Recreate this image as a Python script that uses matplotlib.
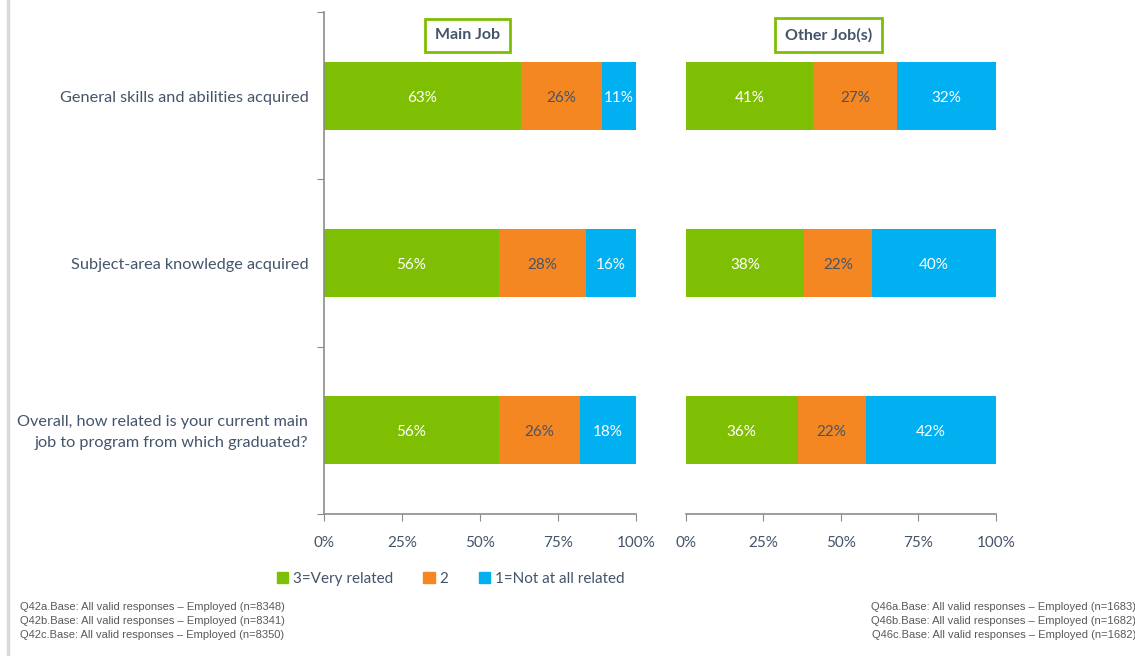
import numpy as np
import matplotlib
matplotlib.use("Agg")
import matplotlib.pyplot as plt
from matplotlib.patches import Patch

categories = ["General skills and abilities acquired",
              "Subject-area knowledge acquired",
              "Overall, how related is your current main\njob to program from which graduated?"]
series = ["3=Very related", "2", "1=Not at all related"]
main_job = [[63, 26, 11], [56, 28, 16], [56, 26, 18]]
other_job = [[41, 27, 32], [38, 22, 40], [36, 22, 42]]
panel_titles = ["Main Job", "Other Job(s)"]
footer_left = ["Q42a.Base: All valid responses \u2013 Employed (n=8348)",
               "Q42b.Base: All valid responses \u2013 Employed (n=8341)",
               "Q42c.Base: All valid responses \u2013 Employed (n=8350)"]
footer_right = ["Q46a.Base: All valid responses \u2013 Employed (n=1683)",
                "Q46b.Base: All valid responses \u2013 Employed (n=1682)",
                "Q46c.Base: All valid responses \u2013 Employed (n=1682)"]

colors = ["#7FBF03", "#F58722", "#00B0F0"]
label_colors = ["white", "#44546A", "white"]
txt = "#44546A"
spine = "#8C8C8C"
font = "Lato"

fig = plt.figure(figsize=(11.35, 6.56), dpi=100)
ax1 = fig.add_axes([0.2855, 0.2165, 0.2749, 0.7652])
ax2 = fig.add_axes([0.6044, 0.2165, 0.2731, 0.7652])

y = np.arange(len(categories))

def draw(ax, data, show_left):
    data = np.array(data)
    left = np.zeros(len(data))
    for i in range(data.shape[1]):
        bars = ax.barh(y, data[:, i], left=left, height=0.405, color=colors[i])
        for b, v in zip(bars, data[:, i]):
            ax.text(b.get_x() + b.get_width() / 2, b.get_y() + b.get_height() / 2 + 0.012,
                    f"{v}%", ha="center", va="center", color=label_colors[i],
                    fontsize=11, family=font)
        left += data[:, i]
    ax.set_xlim(0, 100)
    ax.set_ylim(len(categories) - 0.5, -0.5)
    ax.set_xticks([0, 25, 50, 75, 100])
    ax.set_xticklabels(["0%", "25%", "50%", "75%", "100%"], fontsize=11,
                       color=txt, family=font)
    for s in ["top", "right"]:
        ax.spines[s].set_visible(False)
    ax.spines["bottom"].set_color(spine)
    ax.spines["bottom"].set_linewidth(1.2)
    ax.tick_params(axis="x", colors=spine, length=5, pad=11, labelcolor=txt)
    if show_left:
        ax.spines["left"].set_color(spine)
        ax.spines["left"].set_linewidth(1.2)
        ax.set_yticks([-0.5, 0.5, 1.5, 2.5])
        ax.set_yticklabels([])
        ax.tick_params(axis="y", colors=spine, length=5)
        for yi, c in zip(y, categories):
            ax.text(-5, yi + 0.012, c, ha="right", va="center", fontsize=11.7,
                    color=txt, family=font, linespacing=1.6)
    else:
        ax.spines["left"].set_visible(False)
        ax.set_yticks([])

draw(ax1, main_job, True)
draw(ax2, other_job, False)

for ax, t in zip([ax1, ax2], panel_titles):
    ax.text(0.46, 0.954, t, transform=ax.transAxes, ha="center", va="center",
            fontsize=11.5, fontweight="bold", color=txt, family=font,
            bbox=dict(boxstyle="square,pad=0.6", fc="white", ec="#7FBF03", lw=2))

handles = [Patch(color=c, label=s) for c, s in zip(colors, series)]
fig.legend(handles=handles, loc="center", bbox_to_anchor=(0.397, 0.118), ncol=3,
           frameon=False, prop={"family": font, "size": 11}, labelcolor=txt,
           handlelength=0.75, handleheight=0.75, handletextpad=0.3, columnspacing=2.0)

for i, line in enumerate(footer_left):
    fig.text(20 / 1135, 1 - (607 + 14 * i) / 656, line, ha="left", va="center",
             fontsize=8, color="#595959", family="Liberation Sans")
for i, line in enumerate(footer_right):
    fig.text(1136 / 1135, 1 - (607 + 14 * i) / 656, line, ha="right", va="center",
             fontsize=8, color="#595959", family="Liberation Sans")

fig.add_artist(plt.Line2D([8 / 1135, 8 / 1135], [0, 1], color="#D9D9D9", lw=2.5))

fig.savefig("out.png", dpi=100)
